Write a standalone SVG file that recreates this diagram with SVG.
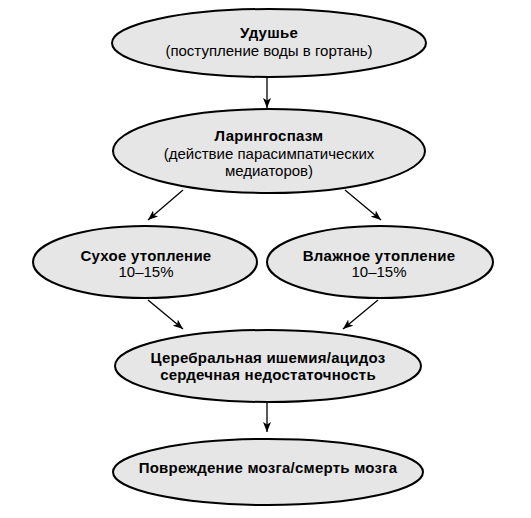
<svg xmlns="http://www.w3.org/2000/svg" width="531" height="518" viewBox="0 0 531 518">
<style>
.node ellipse{fill:#e6e6e6;stroke:#000;stroke-width:2}
text{font-family:"Liberation Sans",Arial,sans-serif;font-size:15px;text-anchor:middle;fill:#000}
.b{font-weight:bold;letter-spacing:0.25px}
.conn line{stroke:#000;stroke-width:1.3;fill:none}
</style>
<defs>
<marker id="ah" viewBox="0 0 10 8" refX="10" refY="4" markerWidth="10" markerHeight="8" markerUnits="userSpaceOnUse" orient="auto">
<path d="M0,0 L10,4 L0,8 L2.5,4 Z" fill="#000"/>
</marker>
</defs>
<rect width="531" height="518" fill="#fff"/>
<g class="conn">
<line x1="267" y1="78" x2="267" y2="108" marker-end="url(#ah)"/>
<line x1="183" y1="190" x2="148" y2="220" marker-end="url(#ah)"/>
<line x1="345" y1="190" x2="381" y2="220" marker-end="url(#ah)"/>
<line x1="148" y1="300" x2="183" y2="329" marker-end="url(#ah)"/>
<line x1="378" y1="300" x2="343" y2="329" marker-end="url(#ah)"/>
<line x1="267" y1="402" x2="267" y2="432" marker-end="url(#ah)"/>
</g>
<g id="n1" class="node">
<ellipse cx="269" cy="43" rx="157" ry="34"/>
<text class="b" x="269" y="38">Удушье</text>
<text x="269" y="56">(поступление воды в гортань)</text>
</g>
<g id="n2" class="node">
<ellipse cx="269" cy="151" rx="156" ry="42"/>
<text class="b" x="269" y="141">Ларингоспазм</text>
<text x="269" y="159">(действие парасимпатических</text>
<text x="269" y="176">медиаторов)</text>
</g>
<g id="n3" class="node">
<ellipse cx="145" cy="262" rx="112" ry="36"/>
<text class="b" x="146" y="261">Сухое утопление</text>
<text x="146" y="277">10–15%</text>
</g>
<g id="n4" class="node">
<ellipse cx="380" cy="262" rx="113" ry="36"/>
<text class="b" x="379" y="261">Влажное утопление</text>
<text x="379" y="277">10–15%</text>
</g>
<g id="n5" class="node">
<ellipse cx="268" cy="366" rx="153" ry="36"/>
<text class="b" x="268" y="363">Церебральная ишемия/ацидоз</text>
<text class="b" x="268" y="380">сердечная недостаточность</text>
</g>
<g id="n6" class="node">
<ellipse cx="268" cy="472" rx="155" ry="33"/>
<text class="b" x="268" y="473">Повреждение мозга/смерть мозга</text>
</g>
</svg>
